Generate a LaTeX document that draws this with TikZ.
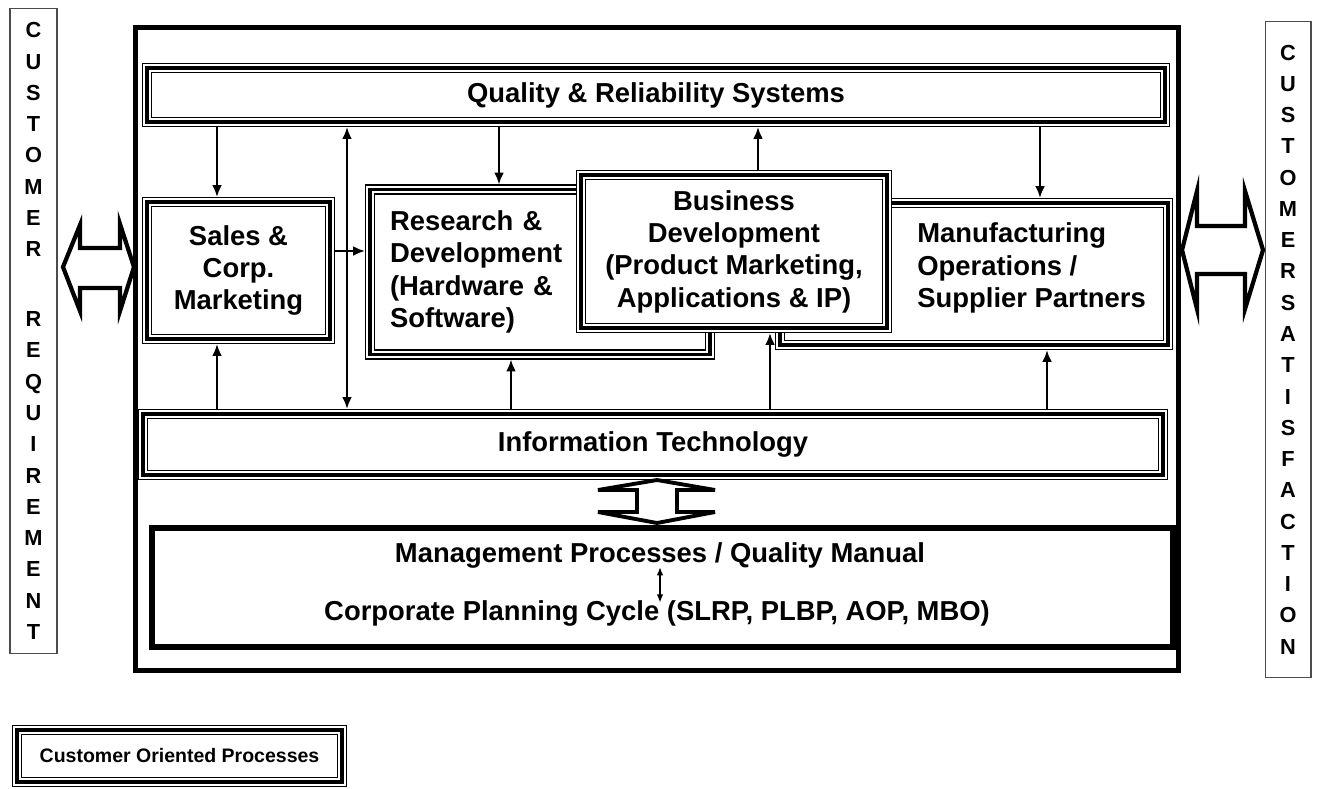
\documentclass[tikz,border=0pt]{standalone}
\usepackage{fontspec}
\setmainfont{Liberation Sans}
\usepackage{tikz}
\usetikzlibrary{arrows.meta}
\newcommand{\boxfont}{\fontsize{15.6}{18.4}\selectfont\bfseries}
\newcommand{\colfont}{\fontsize{12.4}{17.8}\selectfont\bfseries}
\tikzstyle{tribox} = [rectangle, align=center, inner sep=0pt, outer sep=0.1cm, font=\boxfont,
    preaction={fill=white, draw=black, line width=6pt}, preaction={draw=white, line width=4.3pt},
    draw=black, line width=2.1pt]
\tikzstyle{column} = [rectangle, draw=black!70, line width=0.6pt, align=center, inner sep=0pt, font=\colfont]
\tikzstyle{link} = [line width=1.4pt, -{Latex[length=2.4mm,width=2mm]}]
\tikzstyle{bigarrow} = [draw=black, fill=white, line width=2.4pt, line join=miter]

\begin{document}
\begin{tikzpicture}[x=0.02cm, y=-0.02cm]
                        \useasboundingbox (0,0) rectangle (1317,788);
                        \node[column, minimum width=0.94cm, minimum height=12.92cm]
                            (creq) at (33.5,331) {C\\U\\S\\T\\O\\M\\E\\R\\[22pt]R\\E\\Q\\U\\I\\R\\E\\M\\E\\N\\T};
                        \node[column, minimum width=0.92cm, minimum height=13.14cm]
                            (csat) at (1288,349.5) {C\\U\\S\\T\\O\\M\\E\\R\\S\\A\\T\\I\\S\\F\\A\\C\\T\\I\\O\\N};
                        \node[rectangle, draw=black, line width=2.85pt, minimum width=20.86cm, minimum height=12.86cm]
                            (frame) at (657,349) {};
                        \node[tribox, minimum width=20.36cm, minimum height=1.08cm]
                            (qual) at (656,95) {Quality \& Reliability Systems};
                        \node[tribox, minimum width=3.66cm, minimum height=2.74cm]
                            (sales) at (238.5,270.5) {Sales \&\\Corp.\\Marketing};
                        \node[tribox, minimum width=6.8cm, minimum height=3.3cm, align=left,
                            text width=6cm, inner xsep=0.4cm]
                            (rd) at (540,272) {Research \&\\Development\\(Hardware \&\\Software)};
                        \node[tribox, minimum width=7.76cm, minimum height=2.84cm]
                            (man) at (974,274) {};
                        \node[tribox, minimum width=6.12cm, minimum height=3.06cm]
                            (bd) at (734,251.5) {Business\\Development\\(Product Marketing,\\Applications \& IP)};
                        \node[align=left, inner sep=0pt, anchor=west, font=\boxfont]
                            (mantext) at (917,268) {Manufacturing\\Operations /\\Supplier Partners};
                        \node[tribox, minimum width=20.4cm, minimum height=1.22cm]
                            (it) at (653,444.5) {Information Technology};
                        \node[rectangle, draw=black, line width=3.4pt, minimum width=20.41cm, minimum height=2.38cm]
                            (mgmt) at (662.5,587.5) {};
                        \node[inner sep=0pt, anchor=base, font=\boxfont]
                            (mgt) at (660,562) {Management Processes / Quality Manual};
                        \node[inner sep=0pt, anchor=base, font=\boxfont]
                            (cpc) at (657,620) {Corporate Planning Cycle (SLRP, PLBP, AOP, MBO)};
                        \node[tribox, minimum width=6.5cm, minimum height=1.04cm, font=\fontsize{11.1}{13}\selectfont\bfseries]
                            (legend) at (179.5,756) {Customer Oriented Processes};

                        \coordinate (xa) at (217,0);
                        \coordinate (xb) at (347,0);
                        \coordinate (xc) at (499,0);
                        \coordinate (xd) at (511,0);
                        \coordinate (xe) at (758,0);
                        \coordinate (xf) at (770,0);
                        \coordinate (xg) at (1040,0);
                        \coordinate (xh) at (1047,0);
                        \coordinate (yr) at (0,251);
                        \draw[link] (qual.south -| xa) -- (sales.north -| xa);
                        \draw[link] (it.north -| xa) -- (sales.south -| xa);
                        \draw[link, {Latex[length=2.4mm,width=2mm]}-{Latex[length=2.4mm,width=2mm]}]
                            (it.north -| xb) -- (qual.south -| xb);
                        \draw[link] (qual.south -| xc) -- (rd.north -| xc);
                        \draw[link] (it.north -| xd) -- (rd.south -| xd);
                        \draw[link] (bd.north -| xe) -- (qual.south -| xe);
                        \draw[link] (it.north -| xf) -- (bd.south -| xf);
                        \draw[link] (qual.south -| xg) -- (man.north -| xg);
                        \draw[link] (it.north -| xh) -- (man.south -| xh);
                        \draw[link] (sales.east |- yr) -- (rd.west |- yr);
                        \draw[line width=0.7pt, {Latex[length=1.6mm,width=1.3mm]}-{Latex[length=1.6mm,width=1.3mm]}]
                            ([yshift=0.5pt]mgt.south) -- ([yshift=-1.5pt]mgt.south |- cpc.north);

                        \draw[bigarrow] (63,267) -- (80,225) -- (80,248) -- (120,248) -- (120,224) -- (134,267)
                            -- (120,311) -- (120,288) -- (80,288) -- (80,311) -- cycle;
                        \draw[bigarrow] (1182,250) -- (1197,191) -- (1197,226) -- (1245,226) -- (1245,191) -- (1263,250)
                            -- (1245,309) -- (1245,274) -- (1197,274) -- (1197,309) -- cycle;
                        \draw[bigarrow, line width=2.2pt] (598,490) -- (657,480) -- (715,490) -- (677,490) -- (677,512)
                            -- (715,512) -- (657,523) -- (598,512) -- (637,512) -- (637,490) -- cycle;
                    \end{tikzpicture}
\end{document}
